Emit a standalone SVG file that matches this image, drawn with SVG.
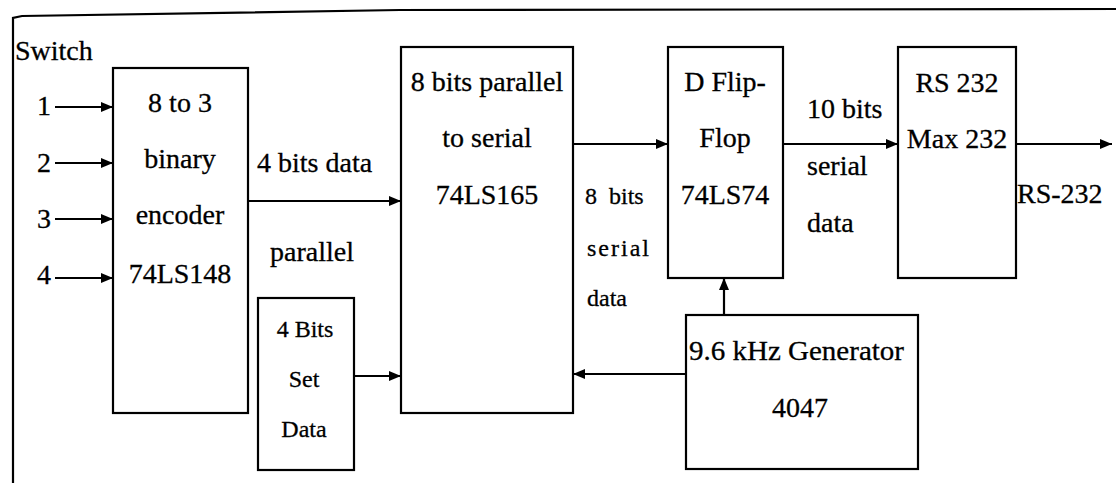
<svg xmlns="http://www.w3.org/2000/svg" width="1116" height="483" viewBox="0 0 1116 483">
  <style>
    .box { fill: #fff; stroke: #000; stroke-width: 2.2; }
    .wire { fill: none; stroke: #000; stroke-width: 2.2; }
    text { font-family: "Liberation Serif", "Times New Roman", serif; font-size: 28px; fill: #000; stroke: #000; stroke-width: 0.3; }
    .mid { text-anchor: middle; }
    .small { font-size: 24px; }
  </style>
  <defs>
    <marker id="arrow" viewBox="0 0 12 10" refX="12" refY="5" markerWidth="12" markerHeight="10" markerUnits="userSpaceOnUse" orient="auto">
      <path d="M0,0 L12,5 L0,10 Z" fill="#000"/>
    </marker>
  </defs>
  <rect width="1116" height="483" fill="#fff"/>

  <!-- outer frame -->
  <polyline class="wire" points="13,483 13,18 22,16 400,10 1116,9"/>

  <text x="15" y="60">Switch</text>

  <!-- switch inputs -->
  <g id="switch-inputs">
    <text x="51" y="115" text-anchor="end">1</text>
    <text x="51" y="172" text-anchor="end">2</text>
    <text x="51" y="228" text-anchor="end">3</text>
    <text x="51" y="284" text-anchor="end">4</text>
  </g>

  <g id="encoder">
    <rect class="box" x="113" y="68" width="135" height="345"/>
    <text class="mid" x="180" y="112">8 to 3</text>
    <text class="mid" x="180" y="168">binary</text>
    <text class="mid" x="180" y="224">encoder</text>
    <text class="mid" x="180" y="283">74LS148</text>
  </g>

  <g id="set-data">
    <rect class="box" x="258" y="298" width="96" height="172"/>
    <text class="mid small" x="305" y="337">4 Bits</text>
    <text class="mid small" x="304" y="387">Set</text>
    <text class="mid small" x="304" y="437">Data</text>
  </g>

  <g id="shift-register">
    <rect class="box" x="401" y="47" width="172" height="366"/>
    <text class="mid" x="487" y="91">8 bits parallel</text>
    <text class="mid" x="487" y="147">to serial</text>
    <text class="mid" x="487" y="204">74LS165</text>
  </g>

  <g id="flip-flop">
    <rect class="box" x="668" y="47" width="115" height="231"/>
    <text class="mid" x="725" y="91">D Flip-</text>
    <text class="mid" x="725" y="147">Flop</text>
    <text class="mid" x="725" y="204">74LS74</text>
  </g>

  <g id="max232">
    <rect class="box" x="898" y="47" width="118" height="231"/>
    <text class="mid" x="957" y="92">RS 232</text>
    <text class="mid" x="957" y="148">Max 232</text>
  </g>

  <g id="generator">
    <rect class="box" x="686" y="315" width="232" height="154"/>
    <text x="689" y="360" textLength="215" lengthAdjust="spacingAndGlyphs">9.6 kHz Generator</text>
    <text class="mid" x="800" y="417">4047</text>
  </g>

  <!-- connectors -->
  <g id="connectors">
    <line class="wire" x1="55" y1="107" x2="113" y2="107" marker-end="url(#arrow)"/>
    <line class="wire" x1="55" y1="163" x2="113" y2="163" marker-end="url(#arrow)"/>
    <line class="wire" x1="55" y1="219" x2="113" y2="219" marker-end="url(#arrow)"/>
    <line class="wire" x1="55" y1="278" x2="113" y2="278" marker-end="url(#arrow)"/>
    <line class="wire" x1="248" y1="201" x2="401" y2="201" marker-end="url(#arrow)"/>
    <line class="wire" x1="354" y1="376" x2="401" y2="376" marker-end="url(#arrow)"/>
    <line class="wire" x1="573" y1="144" x2="668" y2="144" marker-end="url(#arrow)"/>
    <line class="wire" x1="724" y1="315" x2="724" y2="278" marker-end="url(#arrow)"/>
    <line class="wire" x1="686" y1="374" x2="573" y2="374" marker-end="url(#arrow)"/>
    <line class="wire" x1="783" y1="144" x2="898" y2="144" marker-end="url(#arrow)"/>
    <line class="wire" x1="1016" y1="144" x2="1112" y2="144" marker-end="url(#arrow)"/>
  </g>

  <!-- connector labels -->
  <g id="labels">
    <text x="257" y="172">4 bits data</text>
    <text x="270" y="261">parallel</text>
    <text class="small" x="585" y="204" xml:space="preserve">8  bits</text>
    <text class="small" x="587" y="256" letter-spacing="2">serial</text>
    <text class="small" x="587" y="306">data</text>
    <text x="807" y="118">10 bits</text>
    <text x="807" y="175">serial</text>
    <text x="807" y="232">data</text>
    <text x="1017" y="203">RS-232</text>
  </g>
</svg>
